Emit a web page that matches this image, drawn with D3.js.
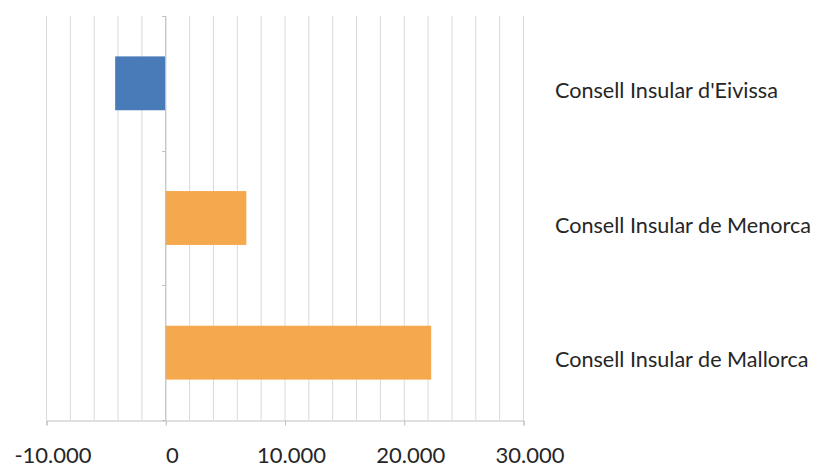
<!DOCTYPE html>
<html><head><meta charset="utf-8">
<script src="https://cdn.jsdelivr.net/npm/d3@7"></script>
<style>body{margin:0;background:#fff;} svg{display:block;}</style>
</head><body>
<svg id="chart" width="815" height="468"></svg>
<script>
const categories = ["Consell Insular d'Eivissa", "Consell Insular de Menorca", "Consell Insular de Mallorca"];
const values = [-4200, 6800, 22300];
const tickValues = [-10000, 0, 10000, 20000, 30000];
const gridValues = d3.range(-10000, 30001, 2000);

const svg = d3.select("#chart");
const pLeft = 46, pRight = 523, pTop = 16, pBottom = 420;
const x = d3.scaleLinear().domain([-10000, 30000]).range([pLeft, pRight]);
const y = d3.scaleBand().domain(categories).range([pTop, pBottom]).paddingInner(0.6).paddingOuter(0.3);
const fmt = v => d3.format(",")(v).replace(/,/g, ".").replace("\u2212", "-");
const font = "Lato, 'Open Sans', sans-serif";

// grid
svg.append("g").selectAll("line").data(gridValues).join("line")
  .attr("x1", d => x(d) + 0.5).attr("x2", d => x(d) + 0.5)
  .attr("y1", pTop).attr("y2", pBottom)
  .attr("stroke", "#d9d9d9").attr("stroke-width", 1);

// bars
svg.append("g").selectAll("rect").data(categories).join("rect")
  .attr("x", (d, i) => x(Math.min(0, values[i])))
  .attr("width", (d, i) => Math.abs(x(values[i]) - x(0)))
  .attr("y", d => y(d))
  .attr("height", y.bandwidth())
  .attr("fill", (d, i) => values[i] < 0 ? "#4a7bb9" : "#f5a94c");

// x axis
const xAxis = d3.axisBottom(x).tickValues(tickValues).tickFormat(fmt).tickSize(5).tickPadding(22);
const gx = svg.append("g").attr("transform", `translate(0.5,${pBottom + 0.5})`).call(xAxis);
gx.select(".domain").attr("stroke", "#bfbfbf");
gx.selectAll(".tick line").attr("stroke", "#bfbfbf");
gx.selectAll(".tick text").attr("fill", "#262626").attr("dx", 6).style("font-family", font).style("font-size", "22px");

// y axis line at zero with ticks at category boundaries
const bounds = [pTop, (y(categories[0]) + y.bandwidth() + y(categories[1])) / 2, (y(categories[1]) + y.bandwidth() + y(categories[2])) / 2, pBottom];
svg.append("line").attr("x1", x(0) + 0.5).attr("x2", x(0) + 0.5).attr("y1", pTop).attr("y2", pBottom).attr("stroke", "#bfbfbf");
svg.append("g").selectAll("line").data(bounds).join("line")
  .attr("x1", x(0) - 3).attr("x2", x(0) + 0.5)
  .attr("y1", d => Math.round(d) + 0.5).attr("y2", d => Math.round(d) + 0.5)
  .attr("stroke", "#bfbfbf");

// category labels
svg.append("g").selectAll("text").data(categories).join("text")
  .attr("x", 555).attr("y", d => y(d) + y.bandwidth() / 2 + 7)
  .attr("dy", "0.35em")
  .attr("fill", "#262626")
  .style("font-family", font).style("font-size", "21.6px")
  .text(d => d);
</script>
</body></html>
